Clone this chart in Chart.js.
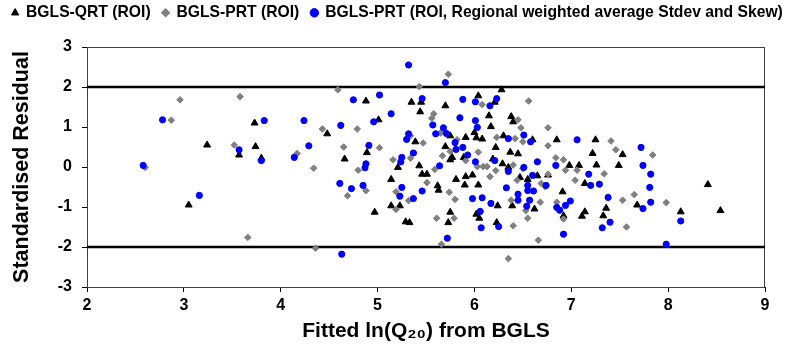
<!DOCTYPE html>
<html>
<head>
<meta charset="utf-8">
<script src="https://cdn.jsdelivr.net/npm/chart.js@4.4.1/dist/chart.umd.min.js"></script>
<style>
html,body{margin:0;padding:0;background:#fff;}
</style>
</head>
<body>
<canvas id="grafica" width="795" height="348"></canvas>
<script>
// series names
const serieNombres = ["BGLS-QRT (ROI)", "BGLS-PRT (ROI)", "BGLS-PRT (ROI, Regional weighted average Stdev and Skew)"];

// BGLS-QRT (ROI)
const qrtX = [3.05,3.73,3.24,3.57,3.74,3.80,4.88,5.35,5.45,5.44,
  5.01,4.48,4.66,4.89,5.21,5.39,5.43,5.46,5.51,5.14,
  5.14,5.23,4.97,5.29,5.33,6.28,6.04,6.21,5.70,6.15,
  6.38,6.40,6.17,5.75,6.00,6.02,6.08,5.91,6.30,5.70,
  6.22,6.37,6.45,5.77,5.75,5.89,6.19,6.29,6.35,5.98,
  5.91,5.81,6.47,5.62,5.63,5.90,6.04,6.24,6.39,6.62,
  5.75,6.02,6.05,5.73,6.23,6.60,6.85,7.25,7.22,7.53,
  6.98,7.08,7.26,7.49,6.65,6.55,6.76,7.14,6.91,7.68,
  7.14,7.11,7.36,7.33,6.92,8.13,8.41,8.54];
const qrtY = [-0.95,1.10,0.55,0.30,0.51,0.22,1.65,1.62,1.62,1.38,
  1.18,0.83,0.20,0.36,-0.01,0.63,0.03,-0.18,-0.18,-0.31,
  -0.97,-0.97,-1.13,-1.37,-1.39,1.93,1.78,1.62,1.53,1.28,
  1.26,1.13,1.01,0.78,0.86,0.73,0.70,0.74,0.78,0.51,
  0.49,0.37,0.33,0.24,0.18,0.24,0.20,0.08,-0.01,-0.20,
  -0.24,-0.31,-0.26,-0.47,-0.58,-0.45,-0.45,-0.97,-0.97,-1.05,
  -1.13,-1.18,-1.28,-1.39,-1.39,0.68,0.68,0.68,0.34,0.31,
  0.04,0.04,0.05,0.04,-0.22,-0.31,-0.20,-0.41,-0.62,-0.95,
  -1.12,-1.23,-1.03,-1.22,-1.22,-1.12,-0.44,-1.09];

// BGLS-PRT (ROI)
const prtX = [2.96,2.87,2.60,3.58,3.52,4.17,4.34,3.66,4.36,4.59,
  5.43,4.43,4.79,4.65,5.02,4.80,5.16,5.34,5.47,5.34,
  4.88,4.69,5.19,5.32,5.19,5.73,6.08,6.56,5.58,5.56,
  6.45,6.48,5.65,5.82,6.23,6.42,6.50,5.75,6.04,5.67,
  5.91,6.13,6.09,6.03,6.40,5.59,6.50,6.22,6.16,6.44,
  5.51,5.74,5.80,6.38,6.53,5.61,5.79,6.40,6.55,5.66,
  6.35,6.76,6.76,7.41,7.46,6.84,6.92,6.94,7.06,7.34,
  6.76,6.69,6.73,7.04,7.65,7.53,6.68,6.85,6.92,7.57,
  6.66,7.84,7.98];
const prtY = [1.68,1.17,-0.01,1.76,0.55,0.34,-0.03,-1.76,-2.03,1.93,
  2.01,0.95,0.95,0.50,0.48,-0.08,0.18,0.78,0.60,0.22,
  -0.59,-0.72,-0.62,-0.84,-1.06,2.32,1.56,1.65,1.33,1.22,
  1.18,0.98,0.85,0.68,0.74,0.71,0.63,0.39,0.37,0.28,
  0.16,0.01,0.01,0.01,0.05,-0.06,-0.04,-0.09,-0.24,-0.33,
  -0.39,-0.63,-0.81,-0.83,-1.09,-1.28,-1.28,-1.47,-1.28,-1.93,
  -2.29,0.98,0.53,0.65,0.43,0.23,0.18,-0.08,-0.08,-0.17,
  -0.18,-0.41,-0.49,-0.33,-0.69,-0.83,-0.88,-0.88,-1.30,-1.50,
  -1.83,0.30,-0.89];

// BGLS-PRT (ROI, regional weighted average Stdev and Skew)
const regX = [2.78,2.58,3.16,3.83,4.24,3.57,3.80,4.29,4.14,5.32,
  4.75,5.02,5.14,5.46,4.96,4.62,4.91,4.88,4.87,5.25,
  5.24,5.32,5.30,5.37,4.61,4.73,4.85,5.25,5.23,5.46,
  5.37,4.63,5.70,6.01,6.23,6.16,5.88,5.85,6.01,6.03,
  5.57,5.68,5.60,5.71,6.35,6.51,6.58,5.80,5.81,5.88,
  5.93,6.01,6.21,5.64,6.35,6.51,6.60,6.33,6.55,6.55,
  6.45,6.45,5.98,6.08,6.17,6.54,6.06,6.25,6.07,5.72,
  7.06,7.72,6.65,6.84,7.74,7.18,6.74,7.20,7.29,6.61,
  7.38,6.57,6.99,6.94,6.85,6.88,7.74,7.40,7.32,6.92,
  7.82,7.81,7.82,8.13,7.98];
const regY = [1.18,0.04,-0.71,1.16,1.16,0.43,0.16,0.53,0.24,2.55,
  1.68,1.80,1.33,1.71,1.13,1.04,0.54,0.08,-0.02,0.24,
  0.13,0.83,0.69,0.35,-0.41,-0.54,-0.46,-0.51,-0.73,-0.60,
  -0.79,-2.18,2.11,1.63,1.71,1.53,1.69,1.23,1.16,0.99,
  1.05,0.98,0.83,0.84,0.71,0.80,0.63,0.61,0.44,0.49,
  0.30,0.13,0.16,0.03,-0.11,-0.01,-0.21,-0.52,-0.46,-0.59,
  -0.68,-0.83,-0.79,-0.77,-0.91,-0.98,-1.11,-1.49,-1.52,-1.78,
  0.68,0.49,0.13,0.04,0.04,-0.18,-0.46,-0.46,-0.43,-0.60,
  -0.76,-0.83,-0.85,-0.96,-1.01,-1.08,-1.04,-1.38,-1.52,-1.68,
  -0.18,-0.51,-0.88,-1.35,-1.93];

// axis ranges and the two reference lines
const ejeX = [2, 9];
const ejeY = [-3, 3];
const limites = [2, -2];

const fuente = "'Liberation Sans', Arial, sans-serif";

function puntos(xs, ys) {
  return xs.map((x, i) => ({x: x, y: ys[i]}));
}

// legend spans the whole canvas width, frame round the plot
const marco = {
  id: 'marco',
  beforeInit(chart) {
    const fitOrig = chart.legend.fit;
    chart.legend.fit = function() {
      this.maxWidth = chart.width;
      fitOrig.bind(chart.legend)();
      this.height = 47;
    };
  },
  afterLayout(chart) {
    const lg = chart.legend;
    lg.left = -6;
    lg.right = chart.width + 6;
    lg.width = chart.width + 12;
    lg.top = -7;
  },
  beforeDatasetsDraw(chart) {
    const a = chart.chartArea;
    const ctx = chart.ctx;
    ctx.save();
    ctx.strokeStyle = '#404040';
    ctx.lineWidth = 1;
    ctx.strokeRect(a.left + 0.5, a.top + 0.5, a.right - a.left - 1, a.bottom - a.top);
    ctx.restore();
  }
};

let chart;

function dibujarGrafica() {
  const ctx = document.getElementById('grafica');

  const lineas = limites.map(v => ({
    type: 'line',
    data: ejeX.map(x => ({x: x, y: v})),
    borderColor: '#000',
    borderWidth: 2.5,
    pointRadius: 0,
    order: 10
  }));

  chart = new Chart(ctx, {
    type: 'scatter',
    data: {
      datasets: [{
        label: serieNombres[0],
        data: puntos(qrtX, qrtY),
        pointStyle: 'triangle',
        pointRadius: 4,
        borderWidth: 1,
        backgroundColor: '#000',
        borderColor: '#000',
        order: 3
      }, {
        label: serieNombres[1],
        data: puntos(prtX, prtY),
        pointStyle: 'rectRot',
        pointRadius: 3.3,
        borderWidth: 1,
        backgroundColor: '#808080',
        borderColor: '#808080',
        order: 2
      }, {
        label: serieNombres[2],
        data: puntos(regX, regY),
        pointStyle: 'circle',
        pointRadius: 3.1,
        borderWidth: 1,
        backgroundColor: '#0000ff',
        borderColor: '#0000ff',
        order: 1
      }, ...lineas]
    },
    options: {
      responsive: false,
      animation: false,
      layout: {padding: {left: 0, right: 30, top: 0, bottom: 0}},
      plugins: {
        tooltip: {enabled: false},
        legend: {
          position: 'top',
          labels: {
            usePointStyle: true,
            boxWidth: 6,
            boxHeight: 6,
            padding: 12,
            color: '#000',
            font: {family: fuente, size: 15.7, weight: 'bold'},
            filter: item => item.datasetIndex < 3,
            sort: (a, b) => a.datasetIndex - b.datasetIndex
          }
        }
      },
      scales: {
        x: {
          type: 'linear',
          min: ejeX[0],
          max: ejeX[1],
          afterFit: s => { s.height = 61; },
          ticks: {
            stepSize: 1,
            color: '#000',
            padding: 4,
            font: {family: fuente, size: 16, weight: 'bold'}
          },
          grid: {drawOnChartArea: false, drawTicks: true, tickLength: 5, color: '#000'},
          border: {display: true, color: '#000', width: 1},
          title: {
            display: true,
            text: 'Fitted ln(Q\u2082\u2080) from BGLS',
            color: '#000',
            font: {family: fuente, size: 21, weight: 'bold'},
            padding: {top: 0, bottom: 4}
          }
        },
        y: {
          type: 'linear',
          min: ejeY[0],
          max: ejeY[1],
          afterFit: s => { s.width = 87; },
          ticks: {
            stepSize: 0.5,
            color: '#000',
            padding: 10,
            font: {family: fuente, size: 16, weight: 'bold'},
            callback: v => String(v)
          },
          grid: {drawOnChartArea: false, drawTicks: true, tickLength: 5, color: '#000'},
          border: {display: true, color: '#000', width: 1},
          title: {
            display: true,
            text: 'Standardised Residual',
            color: '#000',
            font: {family: fuente, size: 21.5, weight: 'bold'},
            padding: {top: 9, bottom: 0}
          }
        }
      }
    },
    plugins: [marco]
  });
}

dibujarGrafica();
</script>
</body>
</html>
